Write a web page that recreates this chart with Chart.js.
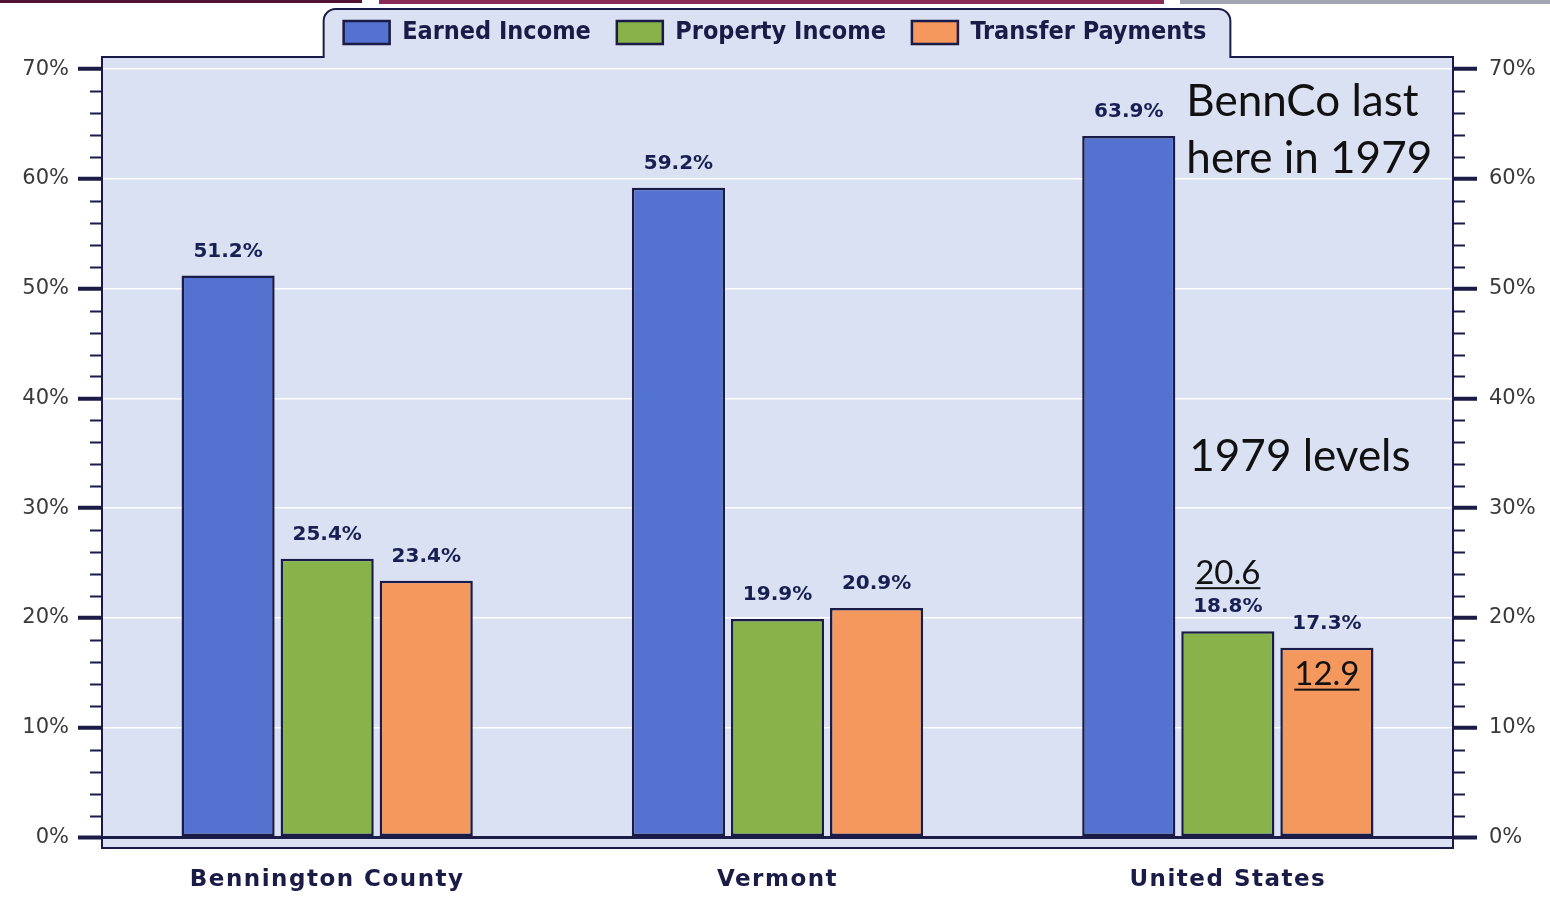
<!DOCTYPE html>
<html>
<head>
<meta charset="utf-8">
<title>Income sources</title>
<script src="https://cdn.jsdelivr.net/npm/chart.js@4/dist/chart.umd.min.js"></script>
<style>
  html, body { margin: 0; padding: 0; background: #ffffff; }
  #wrap { width: 1550px; height: 901px; position: relative; }
</style>
</head>
<body>
<div id="wrap"><canvas id="incomeChart"></canvas></div>
<script>
const regions = ['Bennington County', 'Vermont', 'United States'];
const earnedIncome = [51.2, 59.2, 63.9];
const propertyIncome = [25.4, 19.9, 18.8];
const transferPayments = [23.4, 20.9, 17.3];
const majorTicks = [0, 10, 20, 30, 40, 50, 60, 70];
const minorTicks = [2, 4, 6, 8, 12, 14, 16, 18, 22, 24, 26, 28, 32, 34, 36, 38,
    42, 44, 46, 48, 52, 54, 56, 58, 62, 64, 66, 68];
const noteLines = ['BennCo last', 'here in 1979', '1979 levels'];
const usLevels1979 = ['20.6', '12.9'];

const navy = '#1a1b46';
const plotFill = '#d9e1f2';
const condensed = "'DejaVu Sans Condensed', 'Liberation Sans Narrow', sans-serif";

(function () {
    function framePath(ctx, chart) {
        const a = chart.chartArea;
        const boxes = chart.legend.legendHitBoxes;
        const last = boxes[boxes.length - 1];
        const tabL = boxes[0].left - 20;
        const tabR = last.left + last.width + 24;
        const tabTop = 9;
        const r = 12;
        ctx.beginPath();
        ctx.moveTo(a.left, a.bottom);
        ctx.lineTo(a.left, a.top);
        ctx.lineTo(tabL, a.top);
        ctx.lineTo(tabL, tabTop + r);
        ctx.arcTo(tabL, tabTop, tabL + r, tabTop, r);
        ctx.lineTo(tabR - r, tabTop);
        ctx.arcTo(tabR, tabTop, tabR, tabTop + r, r);
        ctx.lineTo(tabR, a.top);
        ctx.lineTo(a.right, a.top);
        ctx.lineTo(a.right, a.bottom);
        ctx.closePath();
    }

    function underlined(ctx, text, x, y) {
        ctx.textAlign = 'center';
        ctx.textBaseline = 'middle';
        ctx.fillText(text, x, y);
        const w = ctx.measureText(text).width;
        ctx.fillRect(x - w / 2, y + 14, w, 2);
    }

    const decorPlugin = {
        id: 'decor',
        afterInit(chart) {
            const fit = chart.legend.fit;
            chart.legend.fit = function () {
                fit.call(this);
                this.height = 57;
            };
        },
        afterLayout(chart) {
            // lift the legend row so it sits in the middle of the tab
            chart.legend.top = -6;
            const xs = chart.scales.x;
            if (xs && !xs._spaced) {
                const orig = xs.drawLabels;
                xs.drawLabels = function (area) {
                    this.ctx.save();
                    this.ctx.letterSpacing = '1.5px';
                    orig.call(this, area);
                    this.ctx.restore();
                };
                xs._spaced = true;
            }
        },
        beforeDraw(chart) {
            const ctx = chart.ctx;
            ctx.save();
            ctx.fillStyle = '#ffffff';
            ctx.fillRect(0, 0, chart.width, chart.height);
            // slide stripes along the top edge
            ctx.fillStyle = '#521233';
            ctx.fillRect(0, 0, 362, 3);
            ctx.fillStyle = '#8a2c57';
            ctx.fillRect(379, 0, 785, 4);
            ctx.fillStyle = '#a2a6b0';
            ctx.fillRect(1180, 0, 370, 4);
            framePath(ctx, chart);
            ctx.fillStyle = plotFill;
            ctx.fill();
            ctx.restore();
        },
        afterDraw(chart) {
            const ctx = chart.ctx;
            const a = chart.chartArea;
            ctx.save();

            // minor tick marks on both sides
            ctx.strokeStyle = navy;
            ctx.lineWidth = 2;
            minorTicks.forEach(function (v) {
                const py = Math.round(chart.scales.y.getPixelForValue(v)) + 0.5;
                ctx.beginPath();
                ctx.moveTo(a.left - 12, py);
                ctx.lineTo(a.left, py);
                ctx.moveTo(a.right, py);
                ctx.lineTo(a.right + 12, py);
                ctx.stroke();
            });

            framePath(ctx, chart);
            ctx.lineWidth = 2;
            ctx.strokeStyle = navy;
            ctx.stroke();

            // value labels above bars
            ctx.fillStyle = '#181f52';
            ctx.font = 'bold 20px "DejaVu Sans", sans-serif';
            ctx.textAlign = 'center';
            ctx.textBaseline = 'middle';
            chart.data.datasets.forEach(function (ds, di) {
                chart.getDatasetMeta(di).data.forEach(function (bar, i) {
                    ctx.fillText(ds.data[i].toFixed(1) + '%', bar.x, bar.y - 24);
                });
            });

            // slide annotations
            const earnedBar = chart.getDatasetMeta(0).data[2];
            const propBar = chart.getDatasetMeta(1).data[2];
            const transBar = chart.getDatasetMeta(2).data[2];
            const noteX = earnedBar.x + earnedBar.width / 2 + 11;
            ctx.fillStyle = '#111111';
            ctx.font = '44px Lato, "Open Sans", sans-serif';
            ctx.textAlign = 'left';
            ctx.fillText(noteLines[0], noteX, earnedBar.y - 34);
            ctx.fillText(noteLines[1], noteX, earnedBar.y + 23);
            ctx.fillText(noteLines[2], noteX + 3, chart.scales.y.getPixelForValue(34.7));
            ctx.font = '33px Lato, "Open Sans", sans-serif';
            underlined(ctx, usLevels1979[0], propBar.x, propBar.y - 58);
            underlined(ctx, usLevels1979[1], transBar.x, transBar.y + 27);

            ctx.restore();
        }
    };

    const tickFont = { family: '"DejaVu Sans", sans-serif', size: 21 };

    function yAxis(side) {
        return {
            position: side,
            min: -0.95,
            max: 71.1,
            afterBuildTicks: function (s) {
                s.ticks = majorTicks.map(function (v) { return { value: v }; });
            },
            afterFit: function (s) {
                s.width = side === 'left' ? 102 : 97;
            },
            border: { display: false },
            grid: {
                drawOnChartArea: side === 'left',
                color: function (c) {
                    return c.tick && c.tick.value === 0 ? navy : '#ffffff';
                },
                lineWidth: function (c) {
                    return c.tick && c.tick.value === 0 ? 3 : 1.5;
                },
                tickColor: navy,
                tickWidth: 4,
                tickLength: 24
            },
            ticks: {
                autoSkip: false,
                padding: side === 'left' ? 9 : 12,
                color: '#3a3a3a',
                font: tickFont,
                callback: function (v) { return v + '%'; }
            }
        };
    }

    const ctx = document.getElementById('incomeChart');
    new Chart(ctx, {
        type: 'bar',
        data: {
            labels: regions,
            datasets: [
                {
                    label: 'Earned Income',
                    data: earnedIncome,
                    backgroundColor: '#5472d0',
                    borderColor: navy,
                    borderWidth: 2.5
                },
                {
                    label: 'Property Income',
                    data: propertyIncome,
                    backgroundColor: '#88b24a',
                    borderColor: navy,
                    borderWidth: 2.5
                },
                {
                    label: 'Transfer Payments',
                    data: transferPayments,
                    backgroundColor: '#f4985e',
                    borderColor: navy,
                    borderWidth: 2.5
                }
            ]
        },
        options: {
            responsive: true,
            maintainAspectRatio: false,
            animation: false,
            events: [],
            layout: { padding: 0 },
            datasets: {
                bar: {
                    categoryPercentage: 0.66,
                    barPercentage: 0.94,
                    borderSkipped: false
                }
            },
            plugins: {
                tooltip: { enabled: false },
                legend: {
                    position: 'top',
                    labels: {
                        boxWidth: 46,
                        boxHeight: 23,
                        padding: 26,
                        color: navy,
                        font: { family: condensed, size: 25, weight: 'bold' }
                    }
                }
            },
            scales: {
                x: {
                    offset: true,
                    border: { display: false },
                    grid: { display: false, drawTicks: false },
                    afterFit: function (s) { s.height = 53; },
                    ticks: {
                        padding: 18,
                        color: navy,
                        font: { family: '"DejaVu Sans", sans-serif', size: 23, weight: 'bold' }
                    }
                },
                y: yAxis('left'),
                y2: yAxis('right')
            }
        },
        plugins: [decorPlugin]
    });
})();
</script>
</body>
</html>
